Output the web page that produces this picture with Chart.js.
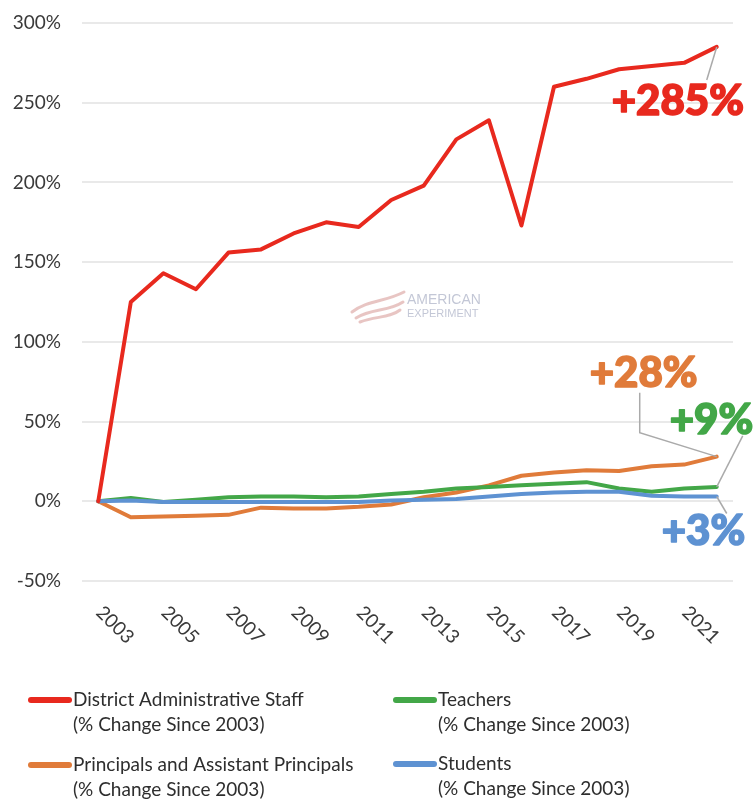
<!DOCTYPE html>
<html>
<head>
<meta charset="utf-8">
<script src="https://cdn.jsdelivr.net/npm/chart.js@4"></script>
<style>
html,body{margin:0;padding:0;background:#fff;}
canvas{display:block;}
</style>
</head>
<body>
<canvas id="c" width="755" height="801"></canvas>
<script>
// ---- data ----
const years = ['2003','2004','2005','2006','2007','2008','2009','2010','2011','2012',
               '2013','2014','2015','2016','2017','2018','2019','2020','2021','2022'];
const adminStaff = [0,125,143,133,156,158,168,175,172,189,198,227,239,173,260,265,271,273,275,285];
const principals = [0,-10,-9.5,-9,-8.5,-4,-4.5,-4.5,-3.5,-2,2.5,5.5,10,16,18,19.5,19,22,23,28];
const teachers   = [0,2,-0.5,1,2.5,3,3,2.5,3,4.5,6,8,9,10,11,12,8,6,8,9];
const students   = [0,0.5,-0.5,-0.5,-0.5,-0.5,-0.5,-0.5,-0.5,0.5,1,1.5,3,4.5,5.5,6,6,3.5,3,3];
const seriesNames = ['District Administrative Staff','Teachers','Principals and Assistant Principals','Students'];
const legendSuffix = '(% Change Since 2003)';
const endLabels = ['+285%','+9%','+28%','+3%'];
const yMin = -50, yMax = 300, yStep = 50;

// ---- styles ----
const colors = ['#E8291E','#43A748','#E07B3A','#5E92D2'];
const values = [adminStaff, teachers, principals, students];
const drawOrder = [0,2,3,1];

const datasets = values.map((v,i)=>({
  label: seriesNames[i] + ' ' + legendSuffix,
  data: v,
  borderColor: colors[i],
  backgroundColor: colors[i],
  borderWidth: 4,
  pointRadius: 0,
  tension: 0,
  order: drawOrder[i],
  borderJoinStyle: 'round',
  borderCapStyle: 'round'
}));

// annotation offsets relative to last point (text left/baseline, leader path)
const annoStyle = [
  {dx:-105, dy:68,  leader:[[0,0],[-10,33]]},
  {dx:-47,  dy:-53, leader:[[0,0],[26,-51]]},
  {dx:-127, dy:-70, leader:[[0,0],[-77,-24],[-77,-64]]},
  {dx:-55,  dy:48,  leader:[[0,0],[10,17]]}
];

const watermark = {
  id:'watermark',
  beforeDatasetsDraw(chart){
    const ctx = chart.ctx;
    ctx.save();
    ctx.strokeStyle = 'rgba(214,150,145,0.55)';
    ctx.lineCap = 'round';
    ctx.lineWidth = 3;
    const paths = [
      [[352,312],[368,300],[385,302],[404,292]],
      [[356,318],[372,308],[388,312],[403,302]],
      [[360,322],[376,316],[390,318],[400,310]]
    ];
    paths.forEach(p=>{
      ctx.beginPath(); ctx.moveTo(p[0][0],p[0][1]);
      ctx.bezierCurveTo(p[1][0],p[1][1],p[2][0],p[2][1],p[3][0],p[3][1]);
      ctx.stroke();
    });
    ctx.fillStyle = 'rgba(175,180,200,0.75)';
    ctx.textAlign = 'left'; ctx.textBaseline = 'alphabetic';
    ctx.font = '14px "Liberation Sans Narrow", "Liberation Sans", sans-serif';
    ctx.fillText('AMERICAN', 407, 304);
    ctx.font = '11px "Liberation Sans Narrow", "Liberation Sans", sans-serif';
    ctx.fillText('EXPERIMENT', 407, 317);
    ctx.restore();
  }
};

const extras = {
  id:'extras',
  afterDraw(chart){
    const ctx = chart.ctx;
    const xs = chart.scales.x, ys = chart.scales.y;
    ctx.save();
    // x tick labels, rotated clockwise
    ctx.font = '19px Lato, sans-serif';
    ctx.fillStyle = '#3a3a3a';
    ctx.textAlign = 'center'; ctx.textBaseline = 'middle';
    years.forEach((yr,i)=>{
      if (i % 2 !== 0) return;
      const x = xs.getPixelForValue(i);
      ctx.save();
      ctx.translate(x + 16.7, ys.bottom + 44);
      ctx.rotate(Math.PI/4);
      ctx.fillText(yr, 0, 0);
      ctx.restore();
    });
    // end annotations
    const last = years.length - 1;
    values.forEach((v,i)=>{
      const px = xs.getPixelForValue(last);
      const py = ys.getPixelForValue(v[last]);
      const st = annoStyle[i];
      ctx.strokeStyle = '#aaaaaa';
      ctx.lineWidth = 1.5;
      ctx.lineJoin = 'miter';
      ctx.beginPath();
      st.leader.forEach((p,k)=>{ if(k===0) ctx.moveTo(px+p[0],py+p[1]); else ctx.lineTo(px+p[0],py+p[1]); });
      ctx.stroke();
      ctx.fillStyle = colors[i];
      ctx.strokeStyle = colors[i];
      ctx.lineWidth = 1.6;
      ctx.lineJoin = 'round';
      ctx.font = '900 42px Lato, sans-serif';
      ctx.textAlign = 'left'; ctx.textBaseline = 'alphabetic';
      ctx.fillText(endLabels[i], px + st.dx, py + st.dy);
      ctx.strokeText(endLabels[i], px + st.dx, py + st.dy);
    });
    // legend
    const legendPos = [[28,700],[393,700],[28,765],[393,764]];
    ctx.font = '19px Lato, sans-serif';
    ctx.textBaseline = 'middle';
    ctx.textAlign = 'left';
    chart.data.datasets.forEach((ds,i)=>{
      const [lx,ly] = legendPos[i];
      ctx.strokeStyle = ds.borderColor;
      ctx.lineWidth = 6; ctx.lineCap = 'round';
      ctx.beginPath(); ctx.moveTo(lx+3,ly); ctx.lineTo(lx+41,ly); ctx.stroke();
      ctx.fillStyle = '#2e2e2e';
      ctx.fillText(seriesNames[i], lx+45, ly);
      ctx.fillText(legendSuffix, lx+45, ly+25);
    });
    ctx.restore();
  }
};

new Chart(document.getElementById('c'), {
  type:'line',
  data:{labels:years, datasets},
  options:{
    responsive:false,
    animation:false,
    layout:{padding:{top:23,left:0,right:22,bottom:220}},
    plugins:{legend:{display:false},tooltip:{enabled:false}},
    scales:{
      x:{
        offset:true,
        grid:{display:false, drawTicks:false},
        border:{display:false},
        ticks:{display:false},
        afterFit(s){ s.height = 0; }
      },
      y:{
        min:yMin, max:yMax,
        grid:{color:'#e9e9e9', lineWidth:2, drawTicks:false},
        border:{display:false},
        ticks:{
          stepSize:yStep,
          padding:21,
          color:'#3a3a3a',
          font:{family:'Lato', size:19},
          callback:v=>v+'%'
        },
        afterFit(s){ s.width = 82; s.paddingTop = 0; s.paddingBottom = 0; }
      }
    }
  },
  plugins:[watermark, extras]
});
</script>
</body>
</html>
